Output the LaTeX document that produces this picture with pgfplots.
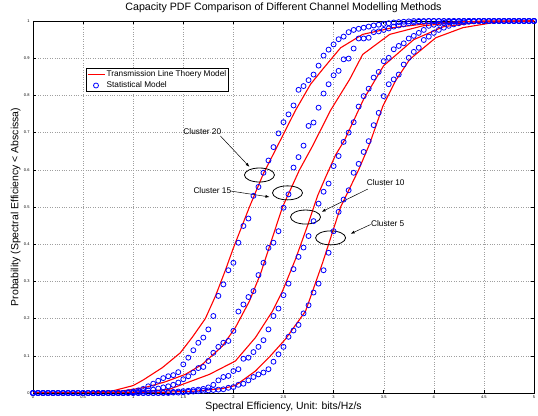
\documentclass[border=0pt]{standalone}
\usepackage{fontspec}
\setmainfont{Liberation Sans}
\usepackage{pgfplots}
\pgfplotsset{compat=1.18}
\usepackage{pgfplotstable}
\usetikzlibrary{arrows.meta}

\pgfplotstableread{
x b20 b15 b10 b5
0.00 0 0 0 0
0.05 0 0 0 0
0.10 0 0 0 0
0.15 0 0 0 0
0.20 0 0 0 0
0.25 0 0 0 0
0.30 0 0 0 0
0.35 0 0 0 0
0.40 0 0 0 0
0.45 0 0 0 0
0.50 0 0 0 0
0.55 0 0 0 0
0.60 0 0 0 0
0.65 0 0 0 0
0.70 0 0 0 0
0.75 0 0 0 0
0.80 0 0 0 0
0.85 0 0 0 0
0.90 0 0 0 0
0.95 0.002 0.001 0 0
1.00 0.004 0.002 0 0
1.05 0.007 0.003 0 0
1.10 0.011 0.005 0 0
1.15 0.018 0.007 0 0
1.20 0.025 0.009 0 0
1.25 0.033 0.012 0 0
1.30 0.040 0.015 0.001 0
1.35 0.045 0.018 0.002 0
1.40 0.048 0.022 0.003 0.001
1.45 0.056 0.028 0.004 0.001
1.50 0.077 0.037 0.005 0.002
1.55 0.095 0.045 0.006 0.003
1.60 0.115 0.055 0.008 0.004
1.65 0.135 0.067 0.009 0.005
1.70 0.149 0.070 0.011 0.006
1.75 0.171 0.086 0.015 0.007
1.80 0.207 0.108 0.022 0.008
1.85 0.261 0.124 0.034 0.009
1.90 0.292 0.135 0.043 0.010
1.95 0.330 0.140 0.046 0.014
2.00 0.350 0.167 0.059 0.016
2.05 0.404 0.219 0.064 0.022
2.10 0.449 0.238 0.092 0.025
2.15 0.469 0.258 0.095 0.034
2.20 0.530 0.274 0.110 0.043
2.25 0.554 0.317 0.124 0.050
2.30 0.592 0.350 0.142 0.055
2.35 0.625 0.390 0.171 0.064
2.40 0.661 0.404 0.207 0.084
2.45 0.698 0.435 0.227 0.104
2.50 0.728 0.498 0.263 0.124
2.55 0.749 0.534 0.294 0.151
2.60 0.773 0.606 0.333 0.168
2.65 0.815 0.634 0.366 0.183
2.70 0.825 0.665 0.391 0.214
2.75 0.841 0.718 0.422 0.236
2.80 0.856 0.727 0.462 0.270
2.85 0.880 0.767 0.509 0.294
2.90 0.907 0.805 0.541 0.330
2.95 0.923 0.830 0.563 0.377
3.00 0.937 0.854 0.610 0.435
3.05 0.951 0.866 0.637 0.487
3.10 0.958 0.897 0.675 0.520
3.15 0.970 0.899 0.700 0.545
3.20 0.976 0.926 0.728 0.592
3.25 0.979 0.953 0.770 0.616
3.30 0.982 0.953 0.798 0.648
3.35 0.985 0.955 0.818 0.677
3.40 0.988 0.970 0.848 0.720
3.45 0.990 0.972 0.863 0.753
3.50 0.992 0.976 0.892 0.798
3.55 0.994 0.980 0.901 0.830
3.60 0.996 0.985 0.924 0.843
3.65 0.997 0.988 0.933 0.856
3.70 0.998 0.991 0.940 0.883
3.75 0.999 0.994 0.953 0.901
3.80 1 0.996 0.960 0.917
3.85 1 0.998 0.968 0.928
3.90 1 0.999 0.976 0.949
3.95 1 1 0.987 0.958
4.00 1 1 0.990 0.968
4.05 1 1 0.993 0.976
4.10 1 1 0.995 0.982
4.15 1 1 0.997 0.987
4.20 1 1 0.998 0.991
4.25 1 1 0.999 0.994
4.30 1 1 1 0.996
4.35 1 1 1 0.998
4.40 1 1 1 0.999
4.45 1 1 1 1
4.50 1 1 1 1
4.55 1 1 1 1
4.60 1 1 1 1
4.65 1 1 1 1
4.70 1 1 1 1
4.75 1 1 1 1
4.80 1 1 1 1
4.85 1 1 1 1
4.90 1 1 1 1
4.95 1 1 1 1
5.00 1 1 1 1
}\stat

\begin{document}
\begin{tikzpicture}
\begin{axis}[
  scale only axis, width=501bp, height=372bp,
  xmin=0, xmax=5, ymin=0, ymax=1,
  xtick={0,0.5,...,5}, ytick={0,0.1,...,1},
  grid=major, grid style={dotted, gray!75, line width=0.4bp},
  tick align=inside, major tick length=3bp,
  axis line style={line width=0.8bp}, every tick/.style={black, line width=0.5bp},
  /pgf/number format/assume math mode=true,
  tick label style={font=\fontsize{4}{5}\selectfont},
  xticklabel style={yshift=1bp},
  title={Capacity PDF Comparison of Different Channel Modelling Methods},
  title style={font=\fontsize{10.7}{12}\selectfont, at={(axis description cs:0.5,1)}, anchor=base, yshift=5bp, inner sep=0pt},
  xlabel={Spectral Efficiency, Unit: bits/Hz/s},
  xlabel style={font=\fontsize{10.5}{12}\selectfont, at={(axis description cs:0.5,0)}, anchor=base, yshift=-16bp, inner sep=0pt},
  ylabel={Probability (Spectral Efficiency < Abscissa)},
  ylabel style={font=\fontsize{10.5}{12}\selectfont, at={(axis description cs:-0.0293,0.5)}, anchor=base, inner sep=0pt},
  legend style={at={(rel axis cs:0.1058,0.874)}, anchor=north west, font=\fontsize{8.3}{9.5}\selectfont,
    draw=black, line width=0.8bp, fill=white, inner xsep=0.5bp, inner ysep=1bp,
    nodes={inner sep=1.5bp}, row sep=0.5bp},
  legend cell align=left,
]
\addlegendimage{red, line width=1.2bp}
\addlegendentry{Transmission Line Thoery Model}
\addlegendimage{only marks, mark=o, blue, mark size=2.5bp, mark options={line width=0.8bp}}
\addlegendentry{Statistical Model}
\addplot[red, line width=1.1bp, forget plot] coordinates {
(0,0) (0.5,0.001) (0.8,0.006) (1.0,0.02) (1.1,0.035) (1.29,0.068) (1.47,0.108) (1.59,0.15) (1.72,0.20) (1.82,0.26) (1.92,0.33) (2.0,0.39) (2.16,0.50) (2.30,0.59) (2.47,0.68) (2.62,0.76) (2.77,0.83) (2.89,0.87) (3.07,0.928) (3.29,0.964) (3.59,0.982) (4.0,0.995) (4.5,1) (5,1)};
\addplot[red, line width=1.1bp, forget plot] coordinates {
(0,0) (0.8,0.002) (1.12,0.015) (1.32,0.03) (1.52,0.05) (1.69,0.077) (1.89,0.126) (2.02,0.176) (2.16,0.247) (2.27,0.32) (2.38,0.41) (2.49,0.50) (2.66,0.60) (2.79,0.664) (2.97,0.76) (3.16,0.843) (3.29,0.91) (3.56,0.964) (3.89,0.987) (4.3,0.998) (5,1)};
\addplot[red, line width=1.1bp, forget plot] coordinates {
(0,0) (1.0,0.002) (1.36,0.01) (1.76,0.05) (2.02,0.086) (2.22,0.149) (2.39,0.22) (2.49,0.274) (2.62,0.36) (2.74,0.45) (2.84,0.53) (2.92,0.58) (3.02,0.64) (3.11,0.68) (3.3,0.79) (3.5,0.88) (3.8,0.95) (4.1,0.985) (4.5,0.998) (5,1)};
\addplot[red, line width=1.1bp, forget plot] coordinates {
(0,0) (1.2,0.001) (1.62,0.005) (1.89,0.012) (2.02,0.02) (2.22,0.059) (2.37,0.10) (2.52,0.145) (2.72,0.22) (2.89,0.35) (2.95,0.40) (3.07,0.50) (3.25,0.60) (3.36,0.67) (3.49,0.77) (3.62,0.84) (3.76,0.897) (4.02,0.955) (4.29,0.982) (4.62,0.997) (5,1)};
\addplot[only marks, mark=o, blue, mark size=2.5bp, mark options={line width=0.8bp}, forget plot] table[x=x, y=b20] {\stat};
\addplot[only marks, mark=o, blue, mark size=2.5bp, mark options={line width=0.8bp}, forget plot] table[x=x, y=b15] {\stat};
\addplot[only marks, mark=o, blue, mark size=2.5bp, mark options={line width=0.8bp}, forget plot] table[x=x, y=b10] {\stat};
\addplot[only marks, mark=o, blue, mark size=2.5bp, mark options={line width=0.8bp}, forget plot] table[x=x, y=b5] {\stat};
% annotations
\begin{scope}[line width=0.8bp, black]
\draw (axis cs:2.26,0.586) ellipse [x radius=15bp, y radius=7bp];
\draw (axis cs:2.54,0.538) ellipse [x radius=15bp, y radius=7bp];
\draw (axis cs:2.72,0.473) ellipse [x radius=15bp, y radius=7bp];
\draw (axis cs:2.97,0.417) ellipse [x radius=15bp, y radius=7bp];
\end{scope}
\begin{scope}[line width=0.5bp, black, -{Latex[length=4bp,width=3bp]}]
\draw (axis cs:1.87,0.691) -- (axis cs:2.16,0.608);
\draw (axis cs:1.97,0.543) -- (axis cs:2.36,0.527);
\draw (axis cs:3.34,0.548) -- (axis cs:2.88,0.487);
\draw (axis cs:3.37,0.453) -- (axis cs:3.17,0.428);
\end{scope}
\begin{scope}[font=\fontsize{8.3}{9}\selectfont, inner sep=0pt]
\node at (axis cs:1.69,0.704) {Cluster 20};
\node at (axis cs:1.79,0.543) {Cluster 15};
\node at (axis cs:3.52,0.565) {Cluster 10};
\node at (axis cs:3.54,0.456) {Cluster 5};
\end{scope}
\end{axis}
\pgfresetboundingbox
\path ([xshift=-33bp,yshift=-23bp]current axis.south west) rectangle ([xshift=4bp,yshift=21bp]current axis.north east);
\end{tikzpicture}
\end{document}
